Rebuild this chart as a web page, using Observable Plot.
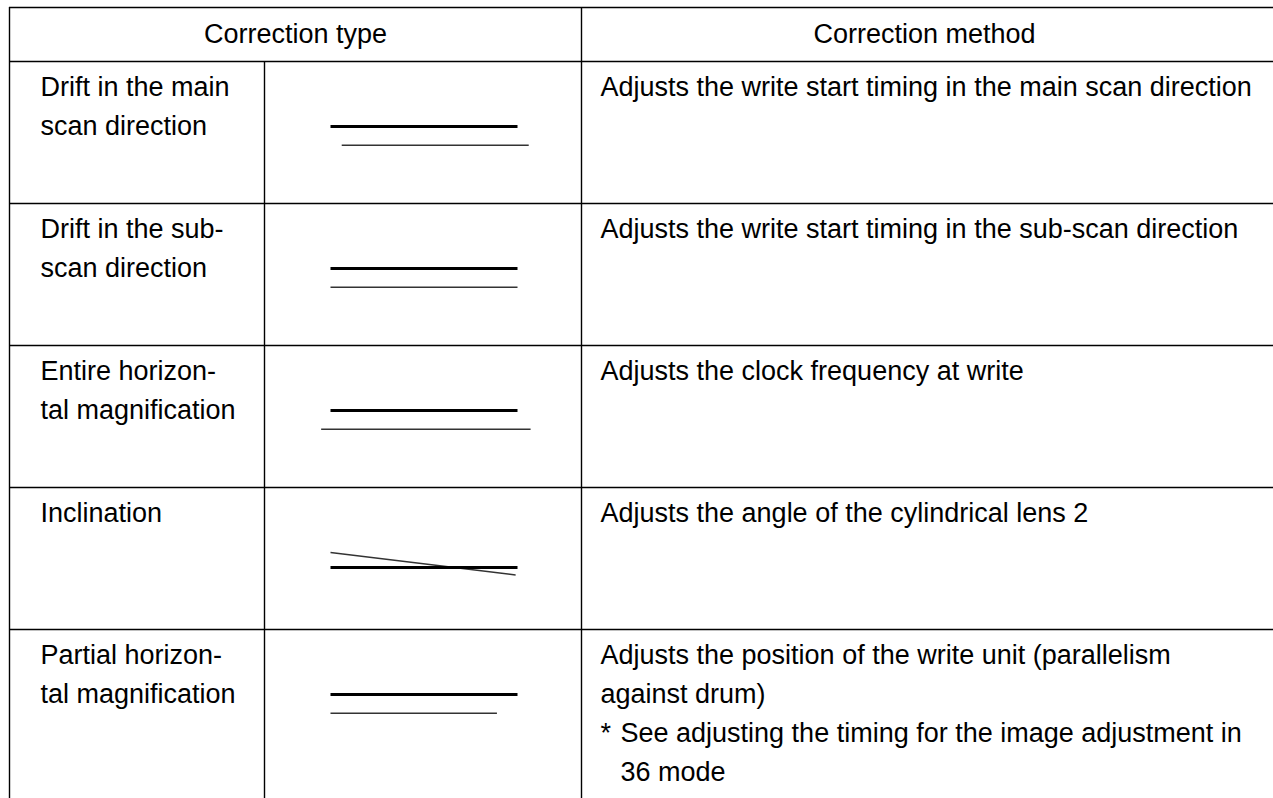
<!DOCTYPE html>
<html>
<head>
<meta charset="utf-8">
<script src="https://cdn.jsdelivr.net/npm/d3@7"></script>
<script src="https://cdn.jsdelivr.net/npm/@observablehq/plot@0.6"></script>
<style>
  html, body { margin: 0; padding: 0; background: #fff; }
  #chart svg { display: block; }
</style>
</head>
<body>
<div id="chart"></div>
<script>
// ---------- data ----------
const headers = ["Correction type", "Correction method"];
const typeLabels = [
  ["Drift in the main", "scan direction"],
  ["Drift in the sub-", "scan direction"],
  ["Entire horizon-", "tal magnification"],
  ["Inclination"],
  ["Partial horizon-", "tal magnification"]
];
const methodLines = [
  ["Adjusts the write start timing in the main scan direction"],
  ["Adjusts the write start timing in the sub-scan direction"],
  ["Adjusts the clock frequency at write"],
  ["Adjusts the angle of the cylindrical lens 2"],
  ["Adjusts the position of the write unit (parallelism", "against drum)"]
];
const noteMarks = ["", "", "", "", "*"];
const noteLines = [[], [], [], [], ["See adjusting the timing for the image adjustment in", "36 mode"]];
// illustration: nominal line (thick) vs. actual line (thin), in % of the scan length
const refX1 = [0, 0, 0, 0, 0];
const refX2 = [100, 100, 100, 100, 100];
const refDy = [0, 0, 0, 8, 0];
const actX1 = [6, 0, -5, 0, 0];
const actX2 = [106, 100, 107, 99, 89];
const actDy1 = [10, 10, 10, 0, 10];
const actDy2 = [10, 10, 10, 12, 10];

// ---------- layout ----------
const W = 1273, H = 798;
const L = {
  left: 9, col1: 264, col2: 581, top: 7, headBottom: 61, rowH: 142,
  fs: 27, lh: 39, firstBase: 34, headBase: 42,
  labelX: 40, methodX: 600, noteIndent: 20,
  figX: 330, figY: 65, figUnit: 1.87
};
const nRows = typeLabels.length;
const toRow = px => (px - L.headBottom) / L.rowH;   // pixel -> row units
const yTop = toRow(L.top), yBot = toRow(H);

// grid
const hRules = [yTop, ...d3.range(0, nRows)].map(y => ({y, x1: L.left, x2: W}));
const vRules = [
  {x: L.left, y1: yTop, y2: yBot},
  {x: L.col1, y1: 0, y2: yBot},
  {x: L.col2, y1: yTop, y2: yBot}
];

// texts
const texts = [];
texts.push({x: (L.left + L.col2) / 2, y: toRow(L.headBase), text: headers[0], anchor: "middle"});
texts.push({x: (L.col2 + W - 6) / 2, y: toRow(L.headBase), text: headers[1], anchor: "middle"});
typeLabels.forEach((lines, r) => lines.forEach((t, i) =>
  texts.push({x: L.labelX, y: r + (L.firstBase + i * L.lh) / L.rowH, text: t, anchor: "start"})));
methodLines.forEach((lines, r) => {
  lines.forEach((t, i) =>
    texts.push({x: L.methodX, y: r + (L.firstBase + i * L.lh) / L.rowH, text: t, anchor: "start"}));
  if (noteMarks[r]) {
    const base = lines.length;
    texts.push({x: L.methodX, y: r + (L.firstBase + base * L.lh) / L.rowH, text: noteMarks[r], anchor: "start"});
    noteLines[r].forEach((t, i) =>
      texts.push({x: L.methodX + L.noteIndent, y: r + (L.firstBase + (base + i) * L.lh) / L.rowH, text: t, anchor: "start"}));
  }
});

// illustration segments
const fx = u => L.figX + u * L.figUnit;
const fy = (r, u) => r + (L.figY + u * L.figUnit) / L.rowH;
const refSegs = d3.range(nRows).map(r => ({x1: fx(refX1[r]), x2: fx(refX2[r]), y1: fy(r, refDy[r]), y2: fy(r, refDy[r])}));
const actSegs = d3.range(nRows).map(r => ({x1: fx(actX1[r]), x2: fx(actX2[r]), y1: fy(r, actDy1[r]), y2: fy(r, actDy2[r])}));

const chart = Plot.plot({
  width: W,
  height: H,
  margin: 0,
  style: {fontFamily: "'Liberation Sans', Arial, Helvetica, sans-serif", background: "#fff"},
  x: {domain: [0, W], range: [0, W], axis: null},
  y: {domain: [yTop, yBot], range: [L.top, H], axis: null},
  marks: [
    Plot.ruleY(hRules, {y: "y", x1: "x1", x2: "x2", stroke: "#000", strokeWidth: 1.4}),
    Plot.ruleX(vRules, {x: "x", y1: "y1", y2: "y2", stroke: "#000", strokeWidth: 1.4}),
    Plot.link(actSegs, {x1: "x1", y1: "y1", x2: "x2", y2: "y2", stroke: "#333", strokeWidth: 1.4}),
    Plot.link(refSegs, {x1: "x1", y1: "y1", x2: "x2", y2: "y2", stroke: "#000", strokeWidth: 3}),
    Plot.text(texts.filter(d => d.anchor === "start"), {x: "x", y: "y", text: "text", textAnchor: "start", lineAnchor: "bottom", fontSize: L.fs, fill: "#000"}),
    Plot.text(texts.filter(d => d.anchor === "middle"), {x: "x", y: "y", text: "text", textAnchor: "middle", lineAnchor: "bottom", fontSize: L.fs, fill: "#000"})
  ]
});
document.getElementById("chart").appendChild(chart);
</script>
</body>
</html>
